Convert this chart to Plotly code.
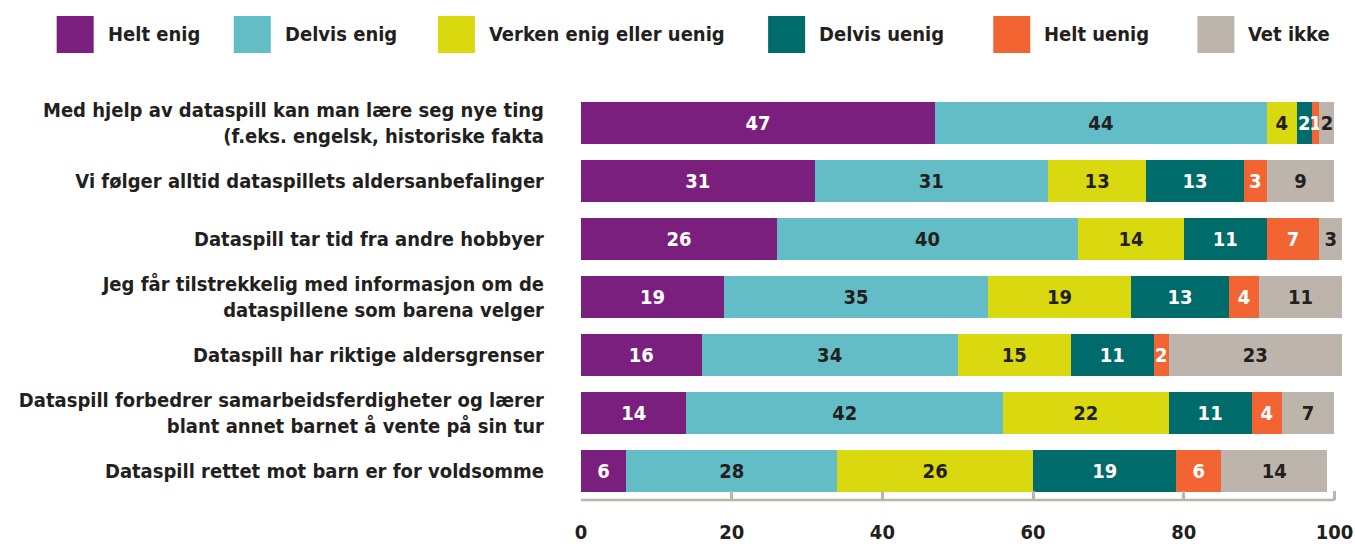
import plotly.graph_objects as go

categories = [
    "Med hjelp av dataspill kan man lære seg nye ting<br>(f.eks. engelsk, historiske fakta",
    "Vi følger alltid dataspillets aldersanbefalinger",
    "Dataspill tar tid fra andre hobbyer",
    "Jeg får tilstrekkelig med informasjon om de<br>dataspillene som barena velger",
    "Dataspill har riktige aldersgrenser",
    "Dataspill forbedrer samarbeidsferdigheter og lærer<br>blant annet barnet å vente på sin tur",
    "Dataspill rettet mot barn er for voldsomme",
]
series_names = ["Helt enig", "Delvis enig", "Verken enig eller uenig", "Delvis uenig", "Helt uenig", "Vet ikke"]
helt_enig = [47, 31, 26, 19, 16, 14, 6]
delvis_enig = [44, 31, 40, 35, 34, 42, 28]
verken = [4, 13, 14, 19, 15, 22, 26]
delvis_uenig = [2, 13, 11, 13, 11, 11, 19]
helt_uenig = [1, 3, 7, 4, 2, 4, 6]
vet_ikke = [2, 9, 3, 11, 23, 7, 14]
x_ticks = [0, 20, 40, 60, 80, 100]

series_values = [helt_enig, delvis_enig, verken, delvis_uenig, helt_uenig, vet_ikke]
colors = ["#7B1F7E", "#63BDC6", "#DAD80F", "#006B6B", "#F26532", "#BDB4AB"]
text_colors = ["white", "#231F20", "#231F20", "white", "white", "#231F20"]

FONT = "DejaVu Sans Condensed"
W, H = 1355, 544
X_MAX = 101  # room for rows that sum to 101 after rounding
PX_PER_UNIT = (1334 - 581) / 100
ML, MT, MB = 581, 94, 44
MR = W - ML - PX_PER_UNIT * X_MAX
pw = W - ML - MR
ph = H - MT - MB

fig = go.Figure()
for name, vals, col, tcol in zip(series_names, series_values, colors, text_colors):
    fig.add_trace(go.Bar(
        y=categories, x=vals, name=name, orientation="h",
        marker=dict(color=col, line=dict(width=0)),
        text=vals, texttemplate="%{x}", textposition="inside",
        insidetextanchor="middle", textangle=0, constraintext="none",
        textfont=dict(color=tcol, size=20, family=FONT, weight="bold"),
        showlegend=False, cliponaxis=False,
    ))

# legend drawn as squares + labels (page pixel positions)
leg_sq_px = [57, 234, 438, 768, 993, 1197]
sq = 37
sq_top = 16
shapes = []
annotations = []
for name, col, px in zip(series_names, colors, leg_sq_px):
    x0 = (px - ML) / pw
    x1 = (px + sq - ML) / pw
    y1 = (H - MB - sq_top) / ph
    y0 = (H - MB - sq_top - sq) / ph
    shapes.append(dict(type="rect", xref="paper", yref="paper", x0=x0, x1=x1, y0=y0, y1=y1,
                       fillcolor=col, line=dict(width=0)))
    annotations.append(dict(xref="paper", yref="paper", x=(px + sq + 12 - ML) / pw, y=(y0 + y1) / 2,
                            text=name, showarrow=False, xanchor="left", yanchor="middle",
                            font=dict(size=20, color="#231F20", family=FONT, weight="bold")))

# axis baseline from first to last tick
shapes.append(dict(type="line", xref="x", yref="paper", x0=x_ticks[0], x1=x_ticks[-1], y0=0, y1=0,
                   line=dict(color="#BDB4AB", width=2.5), layer="above"))

fig.update_layout(
    width=W, height=H,
    margin=dict(l=ML, r=MR, t=MT, b=MB, autoexpand=False),
    barmode="stack", bargap=0.28,
    plot_bgcolor="white", paper_bgcolor="white",
    shapes=shapes, annotations=annotations,
    uniformtext=dict(minsize=20, mode="show"),
    font=dict(family=FONT, size=20, color="#231F20", weight="bold"),
)
fig.update_xaxes(
    range=[0, X_MAX], tickvals=x_ticks, showgrid=False, zeroline=False,
    showline=False,
    ticks="inside", ticklen=9, tickwidth=2.5, tickcolor="#BDB4AB",
    tickfont=dict(size=20, color="#231F20", family=FONT, weight="bold"),
    ticklabelstandoff=18, fixedrange=True, automargin=False,
)
fig.update_yaxes(
    autorange="reversed", showgrid=False, showline=False, ticks="",
    tickfont=dict(size=20, color="#231F20", family=FONT, weight="bold"),
    ticklabelstandoff=36, fixedrange=True, automargin=False,
)
fig.write_html("out.html", config={"displayModeBar": False},
               post_script="document.body.style.margin='0';document.body.style.overflow='hidden';")
